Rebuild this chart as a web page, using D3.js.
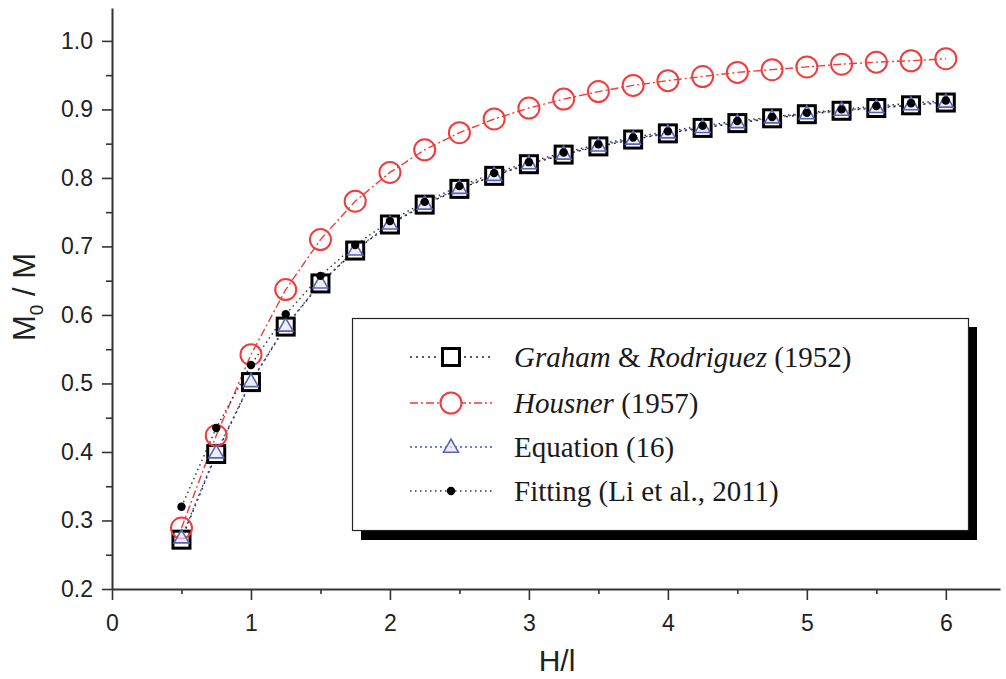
<!DOCTYPE html>
<html>
<head>
<meta charset="utf-8">
<script src="https://cdn.jsdelivr.net/npm/d3@7"></script>
<style>
  body { margin: 0; background: #fff; }
  svg { display: block; }
</style>
</head>
<body>
<div id="chart"></div>
<script>
(function () {

	var hl = [0.5, 0.75, 1.0, 1.25, 1.5, 1.75, 2.0, 2.25, 2.5, 2.75, 3.0, 3.25, 3.5, 3.75, 4.0, 4.25, 4.5, 4.75, 5.0, 5.25, 5.5, 5.75, 6.0];

	var graham = [0.272, 0.397, 0.502, 0.583, 0.646, 0.694, 0.732, 0.761, 0.784, 0.803, 0.820, 0.834, 0.846, 0.856, 0.865, 0.873, 0.880, 0.887, 0.893, 0.898, 0.902, 0.906, 0.910];
	var housner = [0.289, 0.424, 0.542, 0.637, 0.710, 0.766, 0.808, 0.841, 0.866, 0.886, 0.902, 0.915, 0.926, 0.935, 0.942, 0.948, 0.954, 0.958, 0.962, 0.966, 0.969, 0.971, 0.974];
	var equation16 = [0.275, 0.399, 0.503, 0.584, 0.647, 0.695, 0.733, 0.762, 0.785, 0.804, 0.821, 0.835, 0.847, 0.857, 0.866, 0.874, 0.881, 0.888, 0.894, 0.899, 0.903, 0.907, 0.911];
	var fitting = [0.320, 0.435, 0.527, 0.601, 0.657, 0.702, 0.737, 0.765, 0.788, 0.807, 0.823, 0.837, 0.849, 0.859, 0.868, 0.876, 0.883, 0.889, 0.895, 0.900, 0.905, 0.909, 0.913];

	var xTicks = [0, 1, 2, 3, 4, 5, 6];
	var yTicks = [0.2, 0.3, 0.4, 0.5, 0.6, 0.7, 0.8, 0.9, 1.0];

	var width = 1006, height = 679;
	var margin = {top: 8, right: 6, bottom: 90, left: 112};

	var svg = d3.select('#chart').append('svg')
		.attr('width', width)
		.attr('height', height);

	var x = d3.scaleLinear().domain([0, 6.39]).range([margin.left, width - margin.right]);
	var y = d3.scaleLinear().domain([0.2, 1.048]).range([height - margin.bottom, margin.top]);

	var axisColor = '#333';
	var fontSans = 'Arial, "Liberation Sans", sans-serif';
	var fontSerif = '"Times New Roman", "Liberation Serif", serif';

	// minor ticks first, then major axes on top
	svg.append('g')
		.attr('transform', 'translate(0,' + y.range()[0] + ')')
		.call(d3.axisBottom(x).tickValues(d3.range(0.5, 6.4, 1)).tickSize(5).tickFormat(''))
		.call(g => g.select('.domain').remove());
	svg.append('g')
		.attr('transform', 'translate(' + margin.left + ',0)')
		.call(d3.axisLeft(y).tickValues(d3.range(0.25, 1.04, 0.1)).tickSize(6).tickFormat(''))
		.call(g => g.select('.domain').remove());

	var xAxis = svg.append('g')
		.attr('transform', 'translate(0,' + y.range()[0] + ')')
		.call(d3.axisBottom(x).tickValues(xTicks).tickSize(11).tickSizeOuter(0).tickPadding(15).tickFormat(d3.format('d')));
	var yAxis = svg.append('g')
		.attr('transform', 'translate(' + margin.left + ',0)')
		.call(d3.axisLeft(y).tickValues(yTicks).tickSize(10).tickSizeOuter(0).tickPadding(9).tickFormat(d3.format('.1f')));

	svg.selectAll('.tick line').attr('stroke', axisColor).attr('stroke-width', 1.6);
	svg.selectAll('.domain').attr('stroke', axisColor).attr('stroke-width', 2);
	svg.selectAll('.tick text')
		.attr('fill', '#222')
		.style('font-family', fontSans)
		.style('font-size', '23px');

	// axis labels
	svg.append('text')
		.attr('x', 557)
		.attr('y', 671)
		.attr('text-anchor', 'middle')
		.style('font-family', fontSans)
		.style('font-size', '30px')
		.attr('fill', '#222')
		.text('H/l');

	var ylab = svg.append('text')
		.attr('transform', 'translate(35,297) rotate(-90)')
		.attr('text-anchor', 'middle')
		.style('font-family', fontSans)
		.style('font-size', '31px')
		.attr('fill', '#222');
	ylab.append('tspan').text('M');
	ylab.append('tspan').attr('dy', 8).style('font-size', '19px').text('0');
	ylab.append('tspan').attr('dy', -8).text(' / M');

	var series = [
		{name: 'graham', values: graham, color: '#222', dash: '2,4', width: 1.4},
		{name: 'housner', values: housner, color: '#f03c3c', dash: '8,3,2,3', width: 1.4},
		{name: 'equation', values: equation16, color: '#4a55b0', dash: '2,3', width: 1.4},
		{name: 'fitting', values: fitting, color: '#333', dash: '1.5,3.5', width: 1.4}
	];

	var line = d3.line().x(d => x(d[0])).y(d => y(d[1]));

	series.forEach(function (s) {
		svg.append('path')
			.datum(hl.map((h, i) => [h, s.values[i]]))
			.attr('d', line)
			.attr('fill', 'none')
			.attr('stroke', s.color)
			.attr('stroke-width', s.width)
			.attr('stroke-dasharray', s.dash);
	});

	var sq = 17, tri = 15;
	function drawSquare(g, cx, cy) {
		g.append('rect')
			.attr('x', cx - sq / 2).attr('y', cy - sq / 2)
			.attr('width', sq).attr('height', sq)
			.attr('fill', '#fff')
			.attr('stroke', '#000')
			.attr('stroke-width', 3);
	}
	function drawCircle(g, cx, cy) {
		g.append('circle')
			.attr('cx', cx).attr('cy', cy).attr('r', 10.5)
			.attr('fill', 'none')
			.attr('stroke', '#f03c3c')
			.attr('stroke-width', 2);
	}
	function drawTriangle(g, cx, cy) {
		var h = tri * 0.87;
		g.append('path')
			.attr('d', 'M' + cx + ',' + (cy - h * 0.6) + 'L' + (cx + tri / 2) + ',' + (cy + h * 0.4) + 'L' + (cx - tri / 2) + ',' + (cy + h * 0.4) + 'Z')
			.attr('fill', '#e4e6f4')
			.attr('fill-opacity', 0.7)
			.attr('stroke', '#5a64b4')
			.attr('stroke-width', 1.6);
	}
	function drawDot(g, cx, cy) {
		g.append('circle')
			.attr('cx', cx).attr('cy', cy).attr('r', 4.2)
			.attr('fill', '#000');
	}

	var marks = svg.append('g');
	hl.forEach((h, i) => drawSquare(marks, x(h), y(graham[i])));
	hl.forEach((h, i) => drawCircle(marks, x(h), y(housner[i])));
	hl.forEach((h, i) => drawTriangle(marks, x(h), y(equation16[i])));
	hl.forEach((h, i) => drawDot(marks, x(h), y(fitting[i])));

	// legend
	var lg = svg.append('g');
	lg.append('rect').attr('x', 361).attr('y', 327).attr('width', 616).attr('height', 213).attr('fill', '#000');
	lg.append('rect').attr('x', 352.5).attr('y', 318.5).attr('width', 616).attr('height', 212)
		.attr('fill', '#fff').attr('stroke', '#222').attr('stroke-width', 1.2);

	var legendRows = [
		{s: series[0], draw: drawSquare, parts: [['Graham', true], [' & ', false], ['Rodriguez', true], [' (1952)', false]]},
		{s: series[1], draw: drawCircle, parts: [['Housner', true], [' (1957)', false]]},
		{s: series[2], draw: drawTriangle, parts: [['Equation (16)', false]]},
		{s: series[3], draw: drawDot, parts: [['Fitting (Li et al., 2011)', false]]}
	];
	var rowY = [357, 403, 447, 491];

	legendRows.forEach(function (r, i) {
		var yy = rowY[i];
		lg.append('line')
			.attr('x1', 410).attr('x2', 492).attr('y1', yy).attr('y2', yy)
			.attr('stroke', r.s.color).attr('stroke-width', 1.4)
			.attr('stroke-dasharray', r.s.dash);
		if (r.draw === drawSquare || r.draw === drawCircle) {
			lg.append('rect').attr('x', 440).attr('y', yy - 12).attr('width', 22).attr('height', 24).attr('fill', '#fff');
		}
		r.draw(lg, 451, yy);
		var t = lg.append('text')
			.attr('x', 514).attr('y', yy + 10)
			.style('font-family', fontSerif)
			.style('font-size', '29px')
			.attr('fill', '#1a1a1a');
		r.parts.forEach(p => t.append('tspan').style('font-style', p[1] ? 'italic' : 'normal').text(p[0]));
	});

}());
</script>
</body>
</html>
